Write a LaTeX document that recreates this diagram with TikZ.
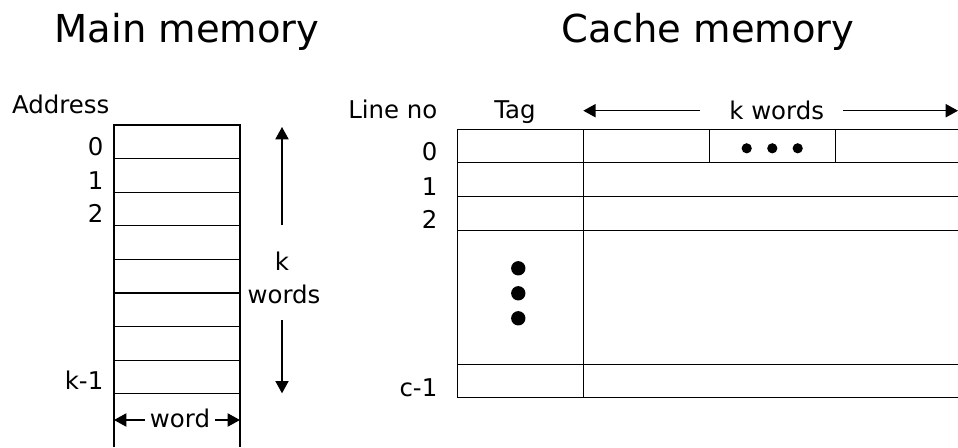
\documentclass[tikz,border=0pt]{standalone}
\usepackage{fontspec}
\setmainfont{DejaVu Sans}
\usetikzlibrary{arrows.meta}

\tikzset{
	lbl/.style={font=\fontsize{13.9}{16}\selectfont, inner sep=0pt},
	ttl/.style={font=\fontsize{21.9}{26}\selectfont, inner sep=0pt},
	arr/.style={-{Triangle[length=7pt, width=7.5pt]}}
}

\begin{document}
\begin{tikzpicture}[x=0.02cm, y=-0.02cm, line width=0.75pt]
	\useasboundingbox (0,0) rectangle (958,447);
	% titles
	\node[ttl, anchor=base] (mmtitle) at (187,42.7) {Main memory};
	\node[ttl, anchor=base] (cmtitle) at (708,42.7) {Cache memory};
	% main memory
	\node[lbl, anchor=base west] (addr) at (11.5,113.3) {Address};
	\draw (114,447) -- (114,125) -- (240,125) -- (240,447);
	\draw (114,158.6) -- (240,158.6);
	\draw (114,192.2) -- (240,192.2);
	\draw (114,225.8) -- (240,225.8);
	\draw (114,259.4) -- (240,259.4);
	\draw (114,293) -- (240,293);
	\draw (114,326.6) -- (240,326.6);
	\draw (114,360.2) -- (240,360.2);
	\draw (114,393.8) -- (240,393.8);
	\node[lbl, anchor=base east] (m0) at (104,155) {0};
	\node[lbl, anchor=base east] (m1) at (104,189.5) {1};
	\node[lbl, anchor=base east] (m2) at (104,222.5) {2};
	\node[lbl, anchor=base east] (mk) at (104,389.5) {k-1};
	\node[lbl, anchor=base] (k) at (282,270) {k};
	\node[lbl, anchor=base] (kwords) at (284,303.3) {words};
	\coordinate (mmup) at (282,127);
	\coordinate (mmupfrom) at (282,225);
	\coordinate (mmdown) at (282,393.3);
	\coordinate (mmdownfrom) at (282,320);
	\draw[arr] (mmupfrom) -- (mmup);
	\draw[arr] (mmdownfrom) -- (mmdown);
	\node[lbl, anchor=base, inner xsep=2.5pt] (word) at (180,427.7) {word};
	\coordinate (wl) at (114,420);
	\coordinate (wr) at (240,420);
	\draw[arr] (word.west |- wl) -- (wl);
	\draw[arr] (word.east |- wr) -- (wr);
	% cache memory
	\node[lbl, anchor=base east] (lineno) at (438,118.3) {Line no};
	\node[lbl, anchor=base] (tag) at (515,118.3) {Tag};
	\node[lbl, anchor=base] (ckw) at (776.7,119) {k words};
	\coordinate (kwl) at (583.3,110.7);
	\coordinate (kwr) at (958,110.7);
	\draw[arr] (700,110.7) -- (kwl);
	\draw[arr] (843,110.7) -- (kwr);
	\draw (958,129.3) -- (457.3,129.3) -- (457.3,397.7) -- (958,397.7);
	\draw (457.3,162.7) -- (958,162.7);
	\draw (457.3,196.7) -- (958,196.7);
	\draw (457.3,230.3) -- (958,230.3);
	\draw (457.3,364.3) -- (958,364.3);
	\draw (583.3,129.3) -- (583.3,397.7);
	\draw (709.3,129.3) -- (709.3,162.7);
	\draw (835.3,129.3) -- (835.3,162.7);
	\filldraw (746.7,148.3) circle (2.5pt);
	\filldraw (772.3,148.3) circle (2.5pt);
	\filldraw (797.7,148.3) circle (2.5pt);
	\filldraw (518.3,268.3) circle (3.7pt);
	\filldraw (518.3,293.3) circle (3.7pt);
	\filldraw (518.3,318.3) circle (3.7pt);
	\node[lbl, anchor=base east] (c0) at (438,160.7) {0};
	\node[lbl, anchor=base east] (c1) at (438,195) {1};
	\node[lbl, anchor=base east] (c2) at (438,228) {2};
	\node[lbl, anchor=base east] (cc) at (438,396.7) {c-1};
\end{tikzpicture}
\end{document}
